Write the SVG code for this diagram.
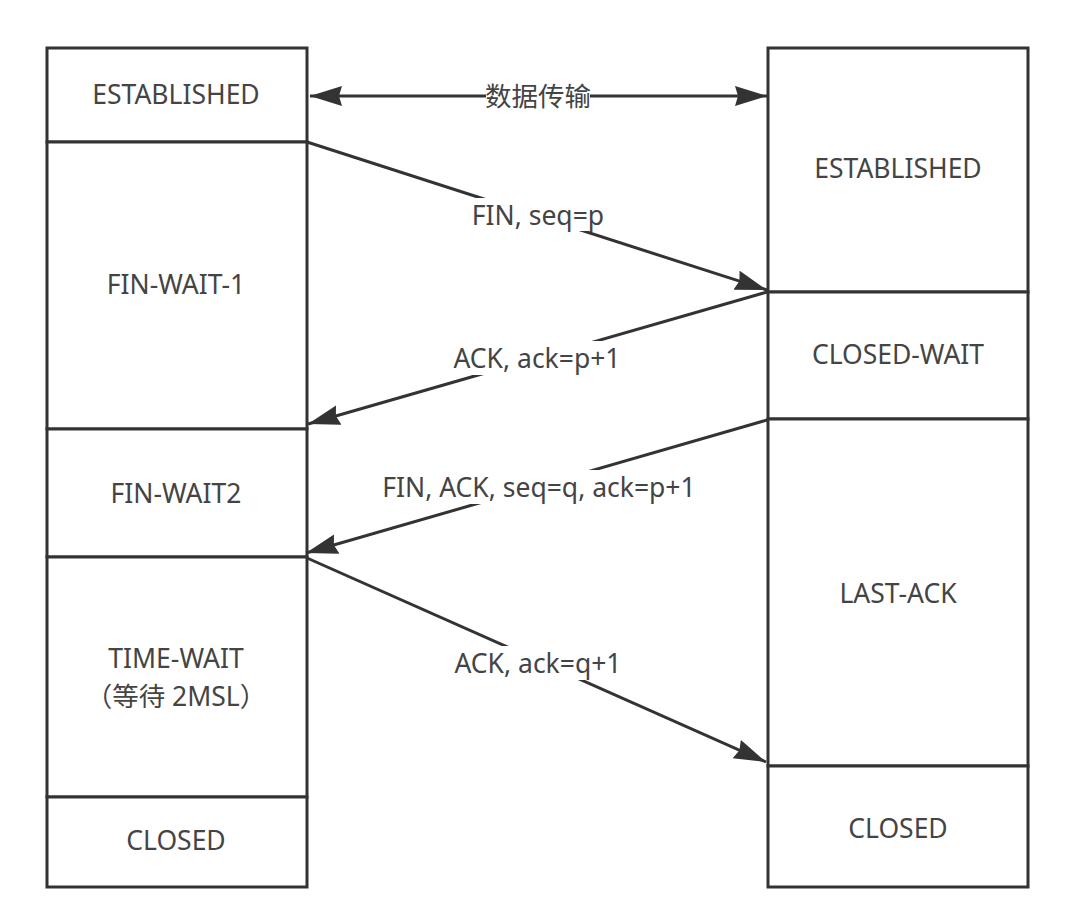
<svg xmlns="http://www.w3.org/2000/svg" width="1066" height="920" viewBox="0 0 1066 920">
<style>
.box{fill:#fff;stroke:#333;stroke-width:3}
.t{font-family:"Noto Sans","Noto Sans CJK SC",sans-serif;font-size:26.5px;fill:#444;text-anchor:middle}
.c{fill:none;stroke:#333;stroke-width:3}
.bg{fill:#fff}
</style>
<defs>
<marker id="ah" markerUnits="userSpaceOnUse" markerWidth="34" markerHeight="22" refX="32" refY="10" orient="auto-start-reverse" viewBox="0 0 34 22">
<path d="M0,0 L32,10 L0,20 L3,10 z" fill="#333"/>
</marker>
</defs>
<rect width="1066" height="920" fill="#fff"/>
<g id="client">
<g id="c-established"><rect class="box" x="47" y="48" width="260" height="94"/><text class="t" x="176" y="104">ESTABLISHED</text></g>
<g id="c-finwait1"><rect class="box" x="47" y="142" width="260" height="287"/><text class="t" x="176" y="294">FIN-WAIT-1</text></g>
<g id="c-finwait2"><rect class="box" x="47" y="429" width="260" height="128"/><text class="t" x="176" y="503">FIN-WAIT2</text></g>
<g id="c-timewait"><rect class="box" x="47" y="557" width="260" height="240"/><text class="t" x="176" y="668">TIME-WAIT</text><text class="t" x="176" y="706">（等待 2MSL）</text></g>
<g id="c-closed"><rect class="box" x="47" y="797" width="260" height="90"/><text class="t" x="176" y="850">CLOSED</text></g>
</g>
<g id="server">
<g id="s-established"><rect class="box" x="768" y="48" width="260" height="244"/><text class="t" x="898" y="178">ESTABLISHED</text></g>
<g id="s-closewait"><rect class="box" x="768" y="292" width="260" height="127"/><text class="t" x="898" y="364">CLOSED-WAIT</text></g>
<g id="s-lastack"><rect class="box" x="768" y="419" width="260" height="347"/><text class="t" x="898" y="603">LAST-ACK</text></g>
<g id="s-closed"><rect class="box" x="768" y="766" width="260" height="121"/><text class="t" x="898" y="838">CLOSED</text></g>
</g>
<g id="connectors">
<line class="c" x1="310" y1="96" x2="767" y2="96" marker-start="url(#ah)" marker-end="url(#ah)"/>
<rect class="bg" x="486" y="82" width="104" height="30"/>
<text class="t" x="538" y="106">数据传输</text>

<line class="c" x1="307" y1="142" x2="767" y2="290" marker-end="url(#ah)"/>
<rect class="bg" x="470" y="198" width="136" height="33"/>
<text class="t" x="538" y="225">FIN, seq=p</text>

<line class="c" x1="767" y1="292" x2="308" y2="424" marker-end="url(#ah)"/>
<rect class="bg" x="446" y="341" width="181" height="34"/>
<text class="t" x="537" y="368">ACK, ack=p+1</text>

<line class="c" x1="767" y1="420" x2="306" y2="553" marker-end="url(#ah)"/>
<rect class="bg" x="373" y="470" width="332" height="34"/>
<text class="t" x="539" y="497">FIN, ACK, seq=q, ack=p+1</text>

<line class="c" x1="307" y1="558" x2="766" y2="762" marker-end="url(#ah)"/>
<rect class="bg" x="447" y="646" width="182" height="34"/>
<text class="t" x="538" y="673">ACK, ack=q+1</text>
</g>
</svg>
